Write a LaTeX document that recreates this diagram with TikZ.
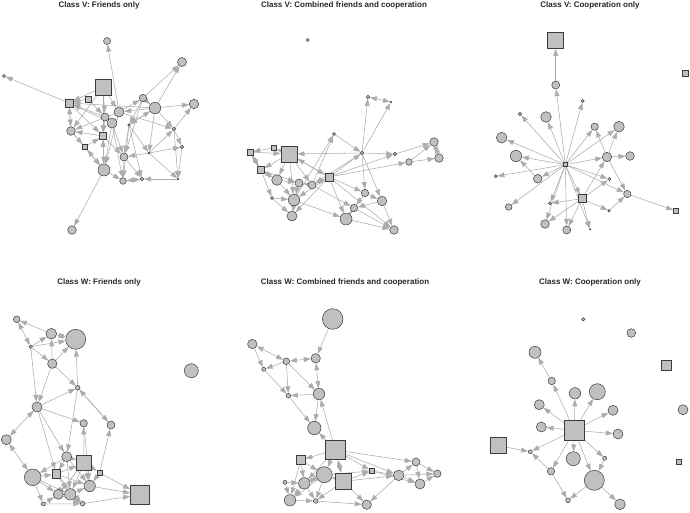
\documentclass[tikz,border=0pt]{standalone}
\usepackage{fontspec}
\setmainfont{Liberation Sans}
\usepackage{tikz}
\usetikzlibrary{arrows.meta, backgrounds}
\definecolor{vfill}{RGB}{192,192,192}
\definecolor{vline}{RGB}{60,60,60}
\definecolor{ecol}{RGB}{172,172,172}
\tikzset{font={\fontsize{8pt}{9}\selectfont}}

\begin{document}
\begin{tikzpicture}[
  x=1pt, y=-1pt,
  vx/.style={circle, draw=vline, fill=vfill, line width=0.5pt, inner sep=0pt, minimum size=2*#1pt},
  sq/.style={rectangle, draw=vline, fill=vfill, line width=0.5pt, inner sep=0pt, minimum size=#1pt},
  arr/.style={draw=ecol, line width=0.55pt, -{Triangle[length=7pt, width=5pt, fill=ecol]}},
  arrb/.style={draw=ecol, line width=0.55pt, {Triangle[length=7pt, width=5pt, fill=ecol]}-{Triangle[length=7pt, width=5pt, fill=ecol]}},
  ttl/.style={font=\bfseries\fontsize{8pt}{9}\selectfont, color=black!85}
]
\useasboundingbox (0,0) rectangle (690,512);

% titles
\node[ttl] (t1) at (99,5) {Class V: Friends only};
\node[ttl] (t2) at (344,5) {Class V: Combined friends and cooperation};
\node[ttl] (t3) at (590,5) {Class V: Cooperation only};
\node[ttl] (t4) at (99,282) {Class W: Friends only};
\node[ttl] (t5) at (345,282) {Class W: Combined friends and cooperation};
\node[ttl] (t6) at (590,282) {Class W: Cooperation only};

% Class V, friends
\foreach \n/\x/\y/\r in {1/107/41/3.5, 2/182/62/4.5, 3/4/76/1.5, 7/143/98/3.7, 8/155/108/5.7,
  9/194/104/4.7, 10/119/112/5, 11/105/117/4, 12/112/123/5, 13/129/125/1.3, 14/71/131/4.3,
  16/174/129/1.7, 18/182/147/1.7, 19/149/153/1, 20/124/157/4, 21/104/170/6, 22/123/181/3.3,
  23/142/179/1.7, 24/178/179/0.7, 25/72/230/4.3}
  \node[vx=\r] (a\n) at (\x,\y) {};
\foreach \n/\x/\y/\s in {4/103/87/16, 5/69/103/8, 6/88/99/5.5, 15/103/136/7, 17/85/147/5.3}
  \node[sq=\s] (a\n) at (\x,\y) {};

% Class V, combined
\foreach \n/\x/\y/\r in {1/307.7/40/1.5, 2/368/97/1.7, 3/391/102/0.8, 4/334/134/1.5, 5/362/153/1.7,
  6/395/154/1.7, 7/434/142/4.3, 8/439/158/4.3, 9/409/162/3.3, 15/277/180/5.3, 16/299/183/4,
  17/312/185/4, 18/272/198/1.5, 19/365/193/3.7, 20/294/200/5.7, 21/382/201/4.7, 22/354/208/3.7,
  23/292/216/5, 24/346/219/6, 25/394/230/4.3}
  \node[vx=\r] (b\n) at (\x,\y) {};
\foreach \n/\x/\y/\s in {10/250/152/6, 11/274/148/5.3, 12/289/154/16.5, 13/261/170/6.7, 14/329/177/8}
  \node[sq=\s] (b\n) at (\x,\y) {};

% Class V, cooperation
\foreach \n/\x/\y/\r in {3/555.7/85/4, 4/582.7/101/1.5, 5/520/114/1.7, 6/546/117/5.3, 7/594.7/126.7/3.7,
  8/619/126.7/5.3, 9/501.7/137.7/5.3, 10/516/156/5.7, 11/607/157/4.7, 12/630/156/4.3,
  14/495.7/176.3/1.5, 15/609.3/179/1.7, 16/537.7/178.7/4.3, 18/627.3/194/3.7, 19/550/203.3/1.5,
  20/508.7/207/3.3, 21/609/210.7/1.3, 23/545/224/4.3, 24/566.7/230/4, 25/590/229.3/0.7}
  \node[vx=\r] (c\n) at (\x,\y) {};
\foreach \n/\x/\y/\s in {1/555.7/40.7/16, 2/685/73/5.5, 13/565.3/164.7/4, 17/582/198.7/8, 22/676/211/5}
  \node[sq=\s] (c\n) at (\x,\y) {};

% Class W, friends
\foreach \n/\x/\y/\r in {1/16.7/319.3/3.3, 2/51.3/333.7/5.3, 3/75.7/339.3/10, 4/30.7/346.7/1.7,
  5/52.3/363.7/4.7, 6/191.3/370.7/7, 7/77.7/387.7/2.3, 8/37/407/5, 9/83.7/423.3/3.7, 10/111/425/4,
  11/6.3/439.7/5, 12/66.7/456.7/5, 14/32.7/477.3/8.3, 17/89.7/486/5.7, 19/58.3/494.3/5,
  20/70.3/494.3/5.7, 21/43.3/504/2, 22/82.7/503.7/2.3}
  \node[vx=\r] (d\n) at (\x,\y) {};
\foreach \n/\x/\y/\s in {13/84/462.7/15.3, 15/56.3/474/8.7, 16/99.7/472.7/5.3, 18/140/494.7/19.3}
  \node[sq=\s] (d\n) at (\x,\y) {};

% Class W, combined
\foreach \n/\x/\y/\r in {1/332.7/319/10.3, 2/252.3/344/4.7, 3/286.3/361.3/3.3, 4/315.7/358.3/4.7,
  5/263.7/369.3/2, 6/319/394/5.7, 7/288.3/395.7/2.3, 8/314.3/428/6.7, 11/416/462/4, 13/324.3/474.7/8,
  14/398.7/475.3/5.3, 15/437.3/473.7/3.7, 17/285/482.3/2, 18/304.3/483.3/5.7, 19/420/484/5,
  20/290/500.3/5.7, 21/315.7/501/2.3, 22/366.7/504.7/4.7}
  \node[vx=\r] (e\n) at (\x,\y) {};
\foreach \n/\x/\y/\s in {9/335.3/450/19.3, 10/300.7/460/8.7, 12/371.7/471/4.7, 16/343.3/481.3/16}
  \node[sq=\s] (e\n) at (\x,\y) {};

% Class W, cooperation
\foreach \n/\x/\y/\r in {1/583.3/319.3/1.7, 2/631.3/333/4.3, 3/535/352.3/6, 5/551.7/381/3.7,
  6/575/393.3/5.7, 7/597.3/391.7/8, 8/539.3/404.7/5, 9/613/410.3/5, 10/683/409.7/5, 11/541.3/427/5,
  13/618/434/5, 15/530.3/451.7/2, 16/573.3/458.7/7, 17/604.7/458.3/2, 19/551/471.3/3.7,
  20/594.3/480.3/10, 21/568/500.3/2.3, 22/620/504.3/5.3}
  \node[vx=\r] (f\n) at (\x,\y) {};
\foreach \n/\x/\y/\s in {4/666.3/365.3/9.3, 12/574.3/430.3/19.3, 14/498.3/445.7/16, 18/678.7/462/5.3}
  \node[sq=\s] (f\n) at (\x,\y) {};

\begin{scope}[on background layer]
% edges, Class V friends
\foreach \s/\t in {5/3, 10/1, 8/2, 7/2, 21/25, 4/5, 6/5, 4/11, 11/5, 5/14, 14/5, 12/5, 4/14,
  10/7, 8/10, 7/8, 8/9, 16/9, 13/8, 11/15, 15/14, 17/15, 14/17, 15/21, 21/15, 17/21, 21/17,
  13/20, 12/20, 21/22, 23/22, 22/23, 24/23, 19/20, 19/18, 16/18, 16/24, 19/24, 13/19, 19/16,
  20/22, 8/16, 8/13, 8/5, 12/21, 10/21, 15/20, 12/22, 7/13, 10/14, 18/24, 20/23, 13/23, 4/15,
  4/10, 6/11, 7/20, 13/22, 14/21, 5/15, 10/16, 8/19}
  \draw[arr] (a\s) -- (a\t);
% edges, Class V combined
\foreach \s/\t in {5/2, 5/3, 4/5, 17/4, 5/6, 9/7, 9/8, 14/9, 14/6, 5/19, 5/21, 5/12, 5/17,
  11/10, 12/11, 10/13, 13/10, 12/13, 13/15, 15/13, 12/14, 14/12, 15/16, 17/16, 17/14, 14/17,
  18/20, 13/18, 15/20, 16/20, 14/20, 14/23, 14/24, 19/24, 19/22, 21/22, 24/25, 22/25, 21/25,
  14/25, 19/21, 24/22, 17/22, 14/19, 12/17, 12/20, 13/16, 6/7, 20/4, 14/5, 12/15, 10/12,
  16/23, 18/23, 20/24}
  \draw[arr] (b\s) -- (b\t);
\foreach \s/\t in {2/3, 7/8, 20/23}
  \draw[arrb] (b\s) -- (b\t);
% edges, Class V cooperation
\foreach \s/\t in {13/3, 13/4, 13/5, 13/6, 13/7, 13/8, 13/9, 13/10, 13/11, 13/14, 13/15, 13/16,
  13/18, 13/20, 13/23, 13/24, 13/25, 13/17, 13/19, 3/1, 17/11, 17/19, 17/23, 17/24, 17/25,
  17/21, 17/15, 16/10, 11/8, 11/12, 11/18, 18/22, 21/18, 11/7}
  \draw[arr] (c\s) -- (c\t);
% edges, Class W friends
\foreach \s/\t in {2/1, 4/2, 4/3, 5/3, 5/2, 4/5, 4/8, 5/7, 7/3, 5/8, 8/7, 8/9, 7/10, 10/7,
  8/15, 7/12, 13/9, 16/10, 16/18, 17/18, 22/18, 21/22, 12/13, 15/13, 14/15, 14/19, 12/14,
  13/17, 19/20, 20/17, 15/20, 21/19, 20/22, 13/20, 12/15, 16/17, 14/21, 13/16, 15/17, 9/17,
  8/12, 14/20, 19/22, 13/19, 12/20, 15/22, 12/17}
  \draw[arr] (d\s) -- (d\t);
\foreach \s/\t in {1/4, 2/3, 8/11, 11/14}
  \draw[arrb] (d\s) -- (d\t);
% edges, Class W combined
\foreach \s/\t in {1/4, 2/5, 3/5, 3/7, 3/6, 5/7, 6/7, 6/8, 7/8, 9/6, 9/8, 9/10, 9/11, 9/12,
  9/14, 9/13, 12/14, 14/11, 14/15, 19/15, 11/15, 14/19, 16/14, 16/22, 14/22, 13/12, 10/18,
  17/18, 20/21, 21/22, 18/20, 17/20, 13/20, 18/21, 16/13, 12/19, 11/19, 16/12, 10/13,
  9/18, 10/20, 13/21, 16/21}
  \draw[arr] (e\s) -- (e\t);
\foreach \s/\t in {2/3, 3/4, 4/6, 9/16, 18/13}
  \draw[arrb] (e\s) -- (e\t);
% edges, Class W cooperation
\foreach \s/\t in {12/5, 5/3, 12/6, 12/7, 12/8, 12/9, 12/11, 12/13, 12/15, 12/16, 12/17,
  12/19, 12/20, 14/15, 19/15, 17/20, 19/21, 20/21, 20/22}
  \draw[arr] (f\s) -- (f\t);
\end{scope}
\end{tikzpicture}
\end{document}
